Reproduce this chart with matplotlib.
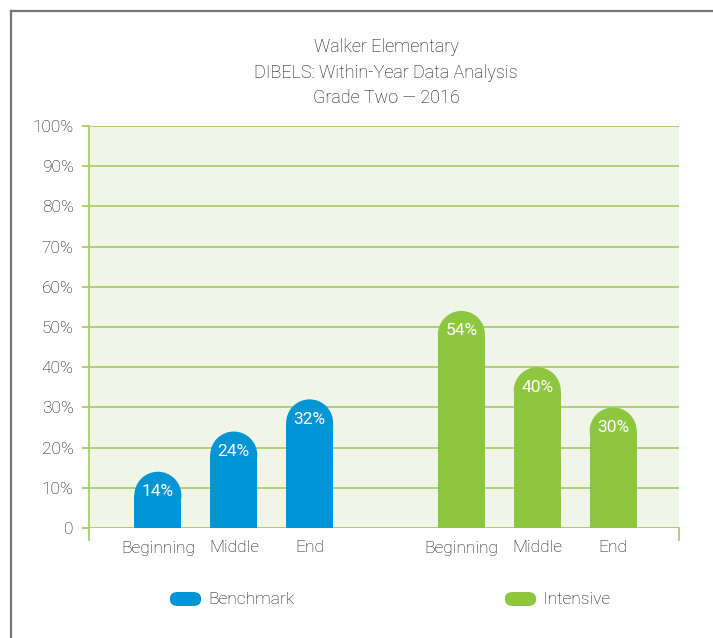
import matplotlib
matplotlib.use("Agg")
import matplotlib.pyplot as plt
from matplotlib.patches import Ellipse, FancyBboxPatch
from matplotlib.lines import Line2D

plt.rcParams['font.family'] = ['Roboto', 'DejaVu Sans']
plt.rcParams['font.weight'] = 'light'

title_lines = ["Walker Elementary", "DIBELS: Within-Year Data Analysis", "Grade Two \u2014 2016"]
periods = ["Beginning", "Middle", "End"]
series_names = ["Benchmark", "Intensive"]
benchmark = [14, 24, 32]
intensive = [54, 40, 30]
y_ticks = [0, 10, 20, 30, 40, 50, 60, 70, 80, 90, 100]
y_tick_labels = ["0"] + [f"{v}%" for v in y_ticks[1:]]

blue = "#0096D6"
green = "#8DC63F"
grid_green = "#A6D06C"
bg = "#F0F5E8"
text_col = "#111111"

W, H = 713, 638
fig = plt.figure(figsize=(W / 100, H / 100), dpi=100)
ax = fig.add_axes([89 / W, 1 - 528 / H, (679 - 89) / W, (528 - 126) / H])
ax.set_facecolor(bg)

x_bench = [0, 1, 2]
x_int = [4, 5, 6]
width = 0.62
ax.set_xlim(-0.908, 6.868)
ax.set_ylim(0, 100)

fig.canvas.draw()
px_per_y = ax.transData.transform((0, 1))[1] - ax.transData.transform((0, 0))[1]
px_per_x = ax.transData.transform((1, 0))[0] - ax.transData.transform((0, 0))[0]
r_px = width * px_per_x / 2
r_y = r_px / px_per_y

def draw_bars(xs, vals, color):
    for x, v in zip(xs, vals):
        ax.bar(x, v - r_y, width=width, bottom=0, color=color, zorder=3, linewidth=0)
        ax.add_patch(Ellipse((x, v - r_y), width, 2 * r_y, facecolor=color,
                             edgecolor='none', zorder=3))
        ax.text(x, v - 20 / px_per_y, f"{v}%", ha='center', va='center', color='white',
                fontsize=12.5, fontweight='normal', zorder=4)

draw_bars(x_bench, benchmark, blue)
draw_bars(x_int, intensive, green)

ax.set_yticks(y_ticks)
ax.set_yticklabels(y_tick_labels)
ax.grid(axis='y', color=grid_green, linewidth=1.3, zorder=1)
ax.set_axisbelow(True)
ax.tick_params(axis='y', length=5, width=1.3, color=grid_green, labelsize=12.5,
               labelcolor=text_col, pad=6)
ax.set_xticks(x_bench + x_int)
ax.set_xticklabels(periods + periods)
ax.tick_params(axis='x', length=0, labelsize=12.5, labelcolor=text_col, pad=9)
for s in ['top', 'right', 'bottom']:
    ax.spines[s].set_visible(False)
ax.spines['left'].set_color(grid_green)
ax.spines['left'].set_linewidth(1.3)
ax.spines['left'].set_bounds(0, 100)
ax.axhline(0, color=grid_green, linewidth=1.3, zorder=2)
x0, x1 = ax.get_xlim()
for xa in (x0, x1):
    ax.add_line(Line2D([xa, xa], [0, -12 / px_per_y], color=grid_green, linewidth=1.3,
                       clip_on=False, zorder=2))

for i, line in enumerate(title_lines):
    fig.text(386 / W, 1 - (47 + 25.5 * i) / H, line, ha='center', va='center',
             fontsize=13, color=text_col)

legend_items = [(170, blue, series_names[0]), (505, green, series_names[1])]
for xp, col, name in legend_items:
    pill = FancyBboxPatch((xp / W, 1 - 606 / H), 31 / W, 14 / H,
                          boxstyle=f"round,pad=0,rounding_size={7 / H}",
                          mutation_aspect=H / W,
                          transform=fig.transFigure, facecolor=col, edgecolor='none')
    fig.patches.append(pill)
    fig.text((xp + 38) / W, 1 - 599 / H, name, ha='left', va='center', fontsize=12.5,
             color=text_col)

frame_col = "#777777"
fig.add_artist(Line2D([11 / W, 1.0], [1 - 11 / H, 1 - 11 / H], color=frame_col,
                      linewidth=1.6, transform=fig.transFigure))
fig.add_artist(Line2D([11 / W, 11 / W], [0, 1 - 11 / H], color=frame_col,
                      linewidth=1.6, transform=fig.transFigure))

fig.savefig("out.png", dpi=100, facecolor='white')
